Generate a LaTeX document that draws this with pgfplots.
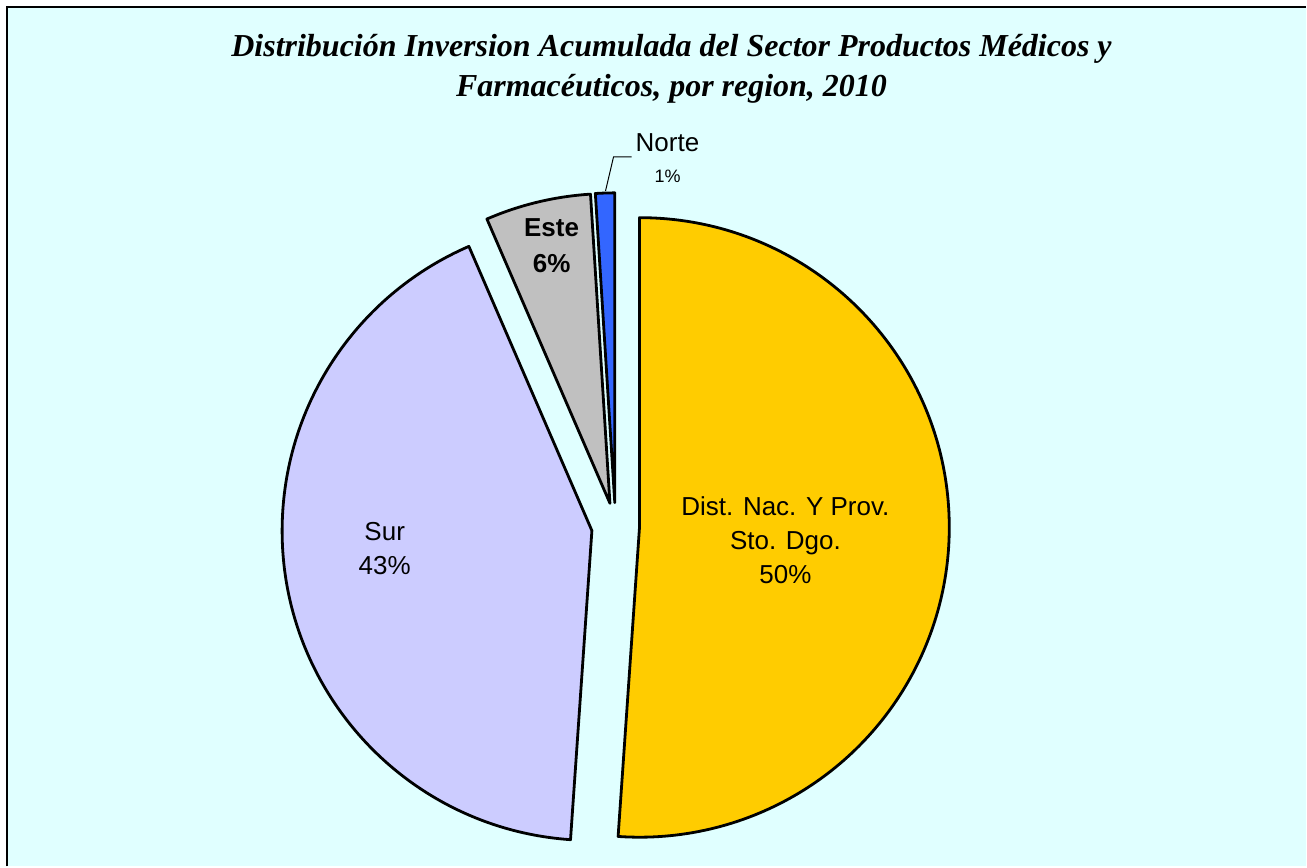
\documentclass[border=0pt]{standalone}
\usepackage{pgfplots}
\pgfplotsset{compat=1.18}
\usepackage{pgfplotstable}
\usepackage{fontspec}
\setmainfont{Liberation Serif}
\newfontfamily\arial{Liberation Sans}
\definecolor{bgcyan}{RGB}{224,255,255}
\definecolor{cDist}{RGB}{255,204,0}
\definecolor{cSur}{RGB}{204,204,255}
\definecolor{cEste}{RGB}{192,192,192}
\definecolor{cNorte}{RGB}{51,102,255}

% region shares (percent), drawn clockwise from 12 o'clock
\pgfplotstableread{
region value color
Dist 51.1 cDist
Sur 42.4 cSur
Este 5.5 cEste
Norte 1.0 cNorte
}\piedata

\begin{document}
\begin{tikzpicture}
\begin{axis}[width=653.5pt,height=433.5pt,scale only axis,
  xmin=0,xmax=1307,ymin=0,ymax=867,y dir=reverse,
  axis lines=none,clip=false]
\fill[white] (axis cs:0,0) rectangle (axis cs:1307,867);
\fill[bgcyan] (axis cs:7,7) rectangle (axis cs:1307,867);
\draw[line width=1pt] (axis cs:7,867) -- (axis cs:7,7) -- (axis cs:1307,7);
\xdef\cum{0}
\foreach \i in {0,...,3}{
  \pgfplotstablegetelem{\i}{value}\of\piedata \let\v\pgfplotsretval
  \pgfplotstablegetelem{\i}{color}\of\piedata \let\c\pgfplotsretval
  \pgfmathsetmacro{\tA}{90-3.6*\cum}
  \pgfmathsetmacro{\tB}{90-3.6*(\cum+\v)}
  \pgfmathsetmacro{\tM}{(\tA+\tB)/2}
  \pgfmathsetmacro{\newcum}{\cum+\v}
  \xdef\cum{\newcum}
  \edef\temp{\noexpand\filldraw[fill=\c,draw=black,line width=1.4pt,line join=round]
    ([shift={(\tM:12pt)}]axis cs:616,527) -- ++(\tA:155pt)
    arc[start angle=\tA,end angle=\tB,radius=155pt] -- cycle;}
  \temp
}
\draw[line width=0.5pt] (axis cs:632,157) -- (axis cs:614,157) -- (axis cs:606,191);
\node[font=\arial\fontsize{13pt}{17pt}\selectfont,align=center] at (axis cs:786,541)
  {Dist. Nac. Y Prov.\\Sto. Dgo.\\50\%};
\node[font=\arial\fontsize{13pt}{17pt}\selectfont,align=center] at (axis cs:385,549)
  {Sur\\43\%};
\node[font=\arial\bfseries\fontsize{13pt}{18pt}\selectfont,align=center] at (axis cs:552,246)
  {Este\\6\%};
\node[font=\arial\fontsize{13pt}{15pt}\selectfont] at (axis cs:668,143) {Norte};
\node[font=\arial\fontsize{9pt}{11pt}\selectfont] at (axis cs:668,176) {1\%};
\node[font=\fontsize{16pt}{20pt}\selectfont\bfseries\itshape,align=center] at (axis cs:672,69)
  {Distribución Inversion Acumulada del Sector Productos Médicos y\\Farmacéuticos, por region, 2010};
\end{axis}
\end{tikzpicture}
\end{document}
